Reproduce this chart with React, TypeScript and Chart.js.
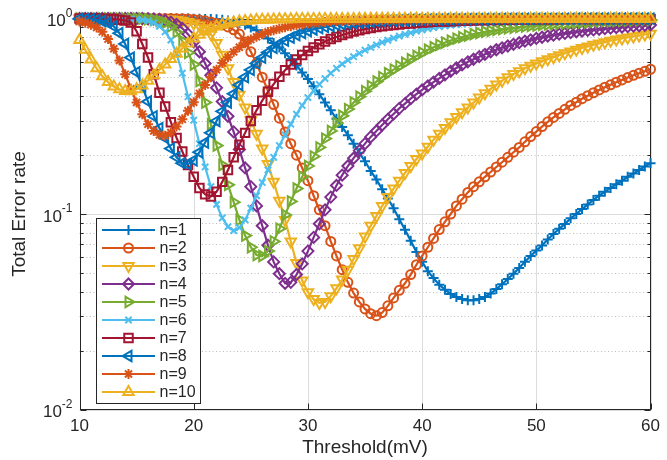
import React, { useEffect, useRef } from "react";
import { Chart, registerables } from "chart.js";
import { drawPoint } from "chart.js/helpers";

Chart.register(...registerables);

const FONT = "'Liberation Sans', Arial, Helvetica, sans-serif";
const TEXT = "#262626";

const thresholds = [
  10, 10.5, 11, 11.5, 12, 12.5, 13, 13.5, 14, 14.5,
  15, 15.5, 16, 16.5, 17, 17.5, 18, 18.5, 19, 19.5,
  20, 20.5, 21, 21.5, 22, 22.5, 23, 23.5, 24, 24.5,
  25, 25.5, 26, 26.5, 27, 27.5, 28, 28.5, 29, 29.5,
  30, 30.5, 31, 31.5, 32, 32.5, 33, 33.5, 34, 34.5,
  35, 35.5, 36, 36.5, 37, 37.5, 38, 38.5, 39, 39.5,
  40, 40.5, 41, 41.5, 42, 42.5, 43, 43.5, 44, 44.5,
  45, 45.5, 46, 46.5, 47, 47.5, 48, 48.5, 49, 49.5,
  50, 50.5, 51, 51.5, 52, 52.5, 53, 53.5, 54, 54.5,
  55, 55.5, 56, 56.5, 57, 57.5, 58, 58.5, 59, 59.5,
  60,
];

const errN1 = [
  1, 1, 1, 1, 1, 1, 1, 1, 1, 1,
  1, 1, 1, 1, 1, 1, 1, 1, 0.999, 0.999,
  0.998, 0.997, 0.995, 0.993, 0.99, 0.985, 0.977, 0.966, 0.95, 0.93,
  0.9, 0.87, 0.83, 0.79, 0.75, 0.71, 0.665, 0.62, 0.575, 0.53,
  0.49, 0.45, 0.41, 0.372, 0.339, 0.307, 0.279, 0.253, 0.229, 0.206,
  0.186, 0.166, 0.15, 0.134, 0.12, 0.107, 0.094, 0.083, 0.073, 0.064,
  0.057, 0.051, 0.047, 0.0435, 0.041, 0.039, 0.0376, 0.0367, 0.0362, 0.0362,
  0.0367, 0.0376, 0.0392, 0.0413, 0.0437, 0.0465, 0.0495, 0.053, 0.057, 0.061,
  0.065, 0.069, 0.074, 0.079, 0.084, 0.089, 0.095, 0.1, 0.106, 0.112,
  0.118, 0.124, 0.13, 0.136, 0.142, 0.148, 0.155, 0.161, 0.168, 0.175,
  0.182,
];

const errN2 = [
  1, 1, 1, 1, 1, 1, 1, 1, 1, 1,
  1, 1, 1, 1, 1, 0.999, 0.999, 0.998, 0.997, 0.995,
  0.989, 0.982, 0.973, 0.96, 0.944, 0.927, 0.906, 0.875, 0.832, 0.759,
  0.676, 0.589, 0.501, 0.427, 0.363, 0.309, 0.263, 0.229, 0.2, 0.172,
  0.148, 0.124, 0.105, 0.0871, 0.0724, 0.061, 0.0519, 0.0447, 0.0394, 0.0355,
  0.0327, 0.0309, 0.0302, 0.0313, 0.0339, 0.0372, 0.0407, 0.0442, 0.049, 0.055,
  0.061, 0.0676, 0.075, 0.0832, 0.0912, 0.1, 0.11, 0.119, 0.129, 0.138,
  0.146, 0.155, 0.164, 0.174, 0.184, 0.195, 0.207, 0.219, 0.234, 0.249,
  0.264, 0.28, 0.296, 0.312, 0.327, 0.343, 0.359, 0.373, 0.389, 0.403,
  0.417, 0.431, 0.445, 0.458, 0.472, 0.485, 0.499, 0.512, 0.525, 0.537,
  0.55,
];

const errN3 = [
  1, 1, 1, 1, 1, 1, 1, 1, 1, 1,
  1, 1, 1, 0.999, 0.997, 0.994, 0.989, 0.982, 0.973, 0.959,
  0.942, 0.92, 0.891, 0.832, 0.75, 0.653, 0.556, 0.473, 0.407, 0.351,
  0.302, 0.257, 0.216, 0.18, 0.146, 0.117, 0.0933, 0.0724, 0.0562, 0.0457,
  0.0398, 0.0367, 0.0351, 0.0355, 0.038, 0.0417, 0.0462, 0.0519, 0.0589, 0.0668,
  0.0767, 0.0871, 0.0977, 0.11, 0.122, 0.135, 0.148, 0.162, 0.176, 0.191,
  0.204, 0.221, 0.24, 0.257, 0.275, 0.295, 0.313, 0.331, 0.351, 0.372,
  0.394, 0.415, 0.437, 0.459, 0.481, 0.501, 0.52, 0.538, 0.556, 0.573,
  0.589, 0.604, 0.619, 0.634, 0.649, 0.664, 0.678, 0.692, 0.706, 0.719,
  0.733, 0.745, 0.757, 0.769, 0.78, 0.791, 0.8, 0.809, 0.818, 0.828,
  0.836,
];

const errN4 = [
  1, 1, 1, 1, 1, 1, 1, 1, 1, 1,
  1, 1, 0.998, 0.995, 0.989, 0.977, 0.959, 0.933, 0.891, 0.832,
  0.759, 0.676, 0.589, 0.513, 0.442, 0.376, 0.316, 0.263, 0.214, 0.172,
  0.138, 0.11, 0.0871, 0.0692, 0.0569, 0.0495, 0.0442, 0.0447, 0.049, 0.0556,
  0.0646, 0.0759, 0.0891, 0.105, 0.122, 0.14, 0.158, 0.176, 0.193, 0.211,
  0.229, 0.248, 0.266, 0.285, 0.305, 0.325, 0.347, 0.367, 0.389, 0.41,
  0.431, 0.452, 0.473, 0.494, 0.515, 0.537, 0.558, 0.579, 0.6, 0.619,
  0.638, 0.656, 0.675, 0.692, 0.708, 0.723, 0.738, 0.752, 0.766, 0.778,
  0.791, 0.802, 0.813, 0.822, 0.832, 0.839, 0.847, 0.855, 0.863, 0.869,
  0.875, 0.881, 0.887, 0.893, 0.899, 0.904, 0.908, 0.914, 0.918, 0.923,
  0.927,
];

const errN5 = [
  1, 1, 1, 1, 1, 1, 1, 1, 1, 1,
  1, 1, 0.993, 0.986, 0.973, 0.951, 0.912, 0.851, 0.767, 0.668,
  0.582, 0.479, 0.372, 0.288, 0.224, 0.178, 0.141, 0.115, 0.0933, 0.0776,
  0.0676, 0.0617, 0.061, 0.0646, 0.0724, 0.0841, 0.0989, 0.116, 0.135, 0.155,
  0.176, 0.197, 0.219, 0.243, 0.266, 0.292, 0.318, 0.344, 0.372, 0.398,
  0.425, 0.451, 0.476, 0.501, 0.525, 0.548, 0.571, 0.594, 0.619, 0.643,
  0.668, 0.692, 0.713, 0.733, 0.753, 0.771, 0.789, 0.803, 0.818, 0.832,
  0.843, 0.855, 0.865, 0.875, 0.883, 0.891, 0.897, 0.904, 0.91, 0.916,
  0.92, 0.927, 0.931, 0.935, 0.94, 0.942, 0.946, 0.951, 0.955, 0.957,
  0.962, 0.964, 0.966, 0.968, 0.971, 0.973, 0.975, 0.977, 0.979, 0.981,
  0.982,
];

const errN6 = [
  1, 1, 1, 1, 1, 1, 1, 1, 0.998, 0.995,
  0.991, 0.984, 0.973, 0.951, 0.912, 0.855, 0.776, 0.661, 0.525, 0.398,
  0.302, 0.229, 0.174, 0.138, 0.112, 0.0955, 0.0861, 0.0822, 0.0851, 0.0933,
  0.107, 0.124, 0.145, 0.168, 0.195, 0.224, 0.254, 0.288, 0.324, 0.359,
  0.394, 0.427, 0.46, 0.493, 0.525, 0.556, 0.585, 0.612, 0.638, 0.664,
  0.689, 0.711, 0.733, 0.755, 0.774, 0.794, 0.813, 0.83, 0.845, 0.861,
  0.875, 0.887, 0.897, 0.908, 0.916, 0.925, 0.931, 0.938, 0.944, 0.951,
  0.955, 0.959, 0.964, 0.966, 0.971, 0.973, 0.975, 0.977, 0.979, 0.982,
  0.984, 0.985, 0.986, 0.988, 0.989, 0.99, 0.991, 0.992, 0.993, 0.993,
  0.993, 0.994, 0.995, 0.995, 0.995, 0.996, 0.996, 0.996, 0.997, 0.997,
  0.997,
];

const errN7 = [
  1, 1, 1, 1, 0.998, 0.995, 0.993, 0.986, 0.977, 0.955,
  0.861, 0.741, 0.631, 0.519, 0.417, 0.355, 0.295, 0.245, 0.209, 0.178,
  0.155, 0.136, 0.126, 0.123, 0.13, 0.146, 0.168, 0.195, 0.226, 0.26,
  0.299, 0.339, 0.38, 0.422, 0.462, 0.504, 0.543, 0.581, 0.617, 0.65,
  0.682, 0.711, 0.738, 0.762, 0.785, 0.805, 0.824, 0.841, 0.857, 0.871,
  0.883, 0.893, 0.904, 0.912, 0.92, 0.927, 0.933, 0.94, 0.944, 0.948,
  0.953, 0.957, 0.962, 0.964, 0.966, 0.968, 0.971, 0.973, 0.975, 0.977,
  0.979, 0.98, 0.982, 0.983, 0.984, 0.985, 0.986, 0.988, 0.989, 0.989,
  0.99, 0.991, 0.991, 0.992, 0.992, 0.993, 0.993, 0.993, 0.993, 0.994,
  0.994, 0.994, 0.994, 0.995, 0.995, 0.995, 0.995, 0.995, 0.995, 0.995,
  0.995,
];

const errN8 = [
  0.995, 0.993, 0.989, 0.982, 0.971, 0.951, 0.912, 0.841, 0.741, 0.631,
  0.531, 0.447, 0.376, 0.316, 0.275, 0.245, 0.216, 0.195, 0.182, 0.18,
  0.188, 0.207, 0.232, 0.26, 0.299, 0.335, 0.372, 0.412, 0.457, 0.501,
  0.546, 0.589, 0.631, 0.671, 0.708, 0.741, 0.771, 0.798, 0.822, 0.843,
  0.863, 0.879, 0.893, 0.906, 0.916, 0.927, 0.935, 0.942, 0.948, 0.955,
  0.959, 0.964, 0.968, 0.971, 0.973, 0.975, 0.977, 0.979, 0.982, 0.983,
  0.984, 0.985, 0.986, 0.987, 0.989, 0.989, 0.99, 0.99, 0.991, 0.992,
  0.992, 0.993, 0.993, 0.993, 0.994, 0.994, 0.994, 0.995, 0.995, 0.995,
  0.995, 0.996, 0.996, 0.996, 0.996, 0.996, 0.996, 0.997, 0.997, 0.997,
  0.997, 0.997, 0.997, 0.997, 0.997, 0.998, 0.998, 0.998, 0.998, 0.998,
  0.998,
];

const errN9 = [
  0.966, 0.951, 0.929, 0.9, 0.855, 0.785, 0.7, 0.61, 0.519, 0.437,
  0.372, 0.324, 0.288, 0.266, 0.254, 0.251, 0.261, 0.28, 0.305, 0.337,
  0.373, 0.414, 0.457, 0.501, 0.547, 0.592, 0.634, 0.675, 0.713, 0.748,
  0.78, 0.807, 0.832, 0.853, 0.871, 0.887, 0.902, 0.914, 0.925, 0.933,
  0.942, 0.948, 0.955, 0.959, 0.964, 0.968, 0.971, 0.973, 0.975, 0.977,
  0.979, 0.98, 0.982, 0.983, 0.984, 0.985, 0.986, 0.987, 0.988, 0.988,
  0.989, 0.989, 0.99, 0.99, 0.991, 0.991, 0.992, 0.992, 0.993, 0.993,
  0.993, 0.993, 0.994, 0.994, 0.994, 0.994, 0.995, 0.995, 0.995, 0.995,
  0.995, 0.995, 0.996, 0.996, 0.996, 0.996, 0.996, 0.996, 0.996, 0.996,
  0.997, 0.997, 0.997, 0.997, 0.997, 0.997, 0.997, 0.997, 0.997, 0.997,
  0.997,
];

const errN10 = [
  0.776, 0.692, 0.617, 0.556, 0.507, 0.473, 0.449, 0.434, 0.426, 0.425,
  0.435, 0.454, 0.481, 0.513, 0.547, 0.582, 0.621, 0.661, 0.703, 0.746,
  0.789, 0.826, 0.859, 0.887, 0.91, 0.929, 0.944, 0.955, 0.964, 0.971,
  0.977, 0.982, 0.984, 0.986, 0.989, 0.99, 0.991, 0.992, 0.993, 0.993,
  0.994, 0.994, 0.994, 0.995, 0.995, 0.995, 0.995, 0.995, 0.995, 0.996,
  0.996, 0.996, 0.996, 0.996, 0.996, 0.996, 0.996, 0.996, 0.996, 0.996,
  0.997, 0.997, 0.997, 0.997, 0.997, 0.997, 0.997, 0.997, 0.997, 0.997,
  0.997, 0.997, 0.997, 0.997, 0.997, 0.997, 0.997, 0.997, 0.997, 0.997,
  0.998, 0.998, 0.998, 0.998, 0.998, 0.998, 0.998, 0.998, 0.998, 0.998,
  0.998, 0.998, 0.998, 0.998, 0.998, 0.998, 0.998, 0.998, 0.998, 0.998,
  0.998,
];

const seriesLabels = ["n=1", "n=2", "n=3", "n=4", "n=5", "n=6", "n=7", "n=8", "n=9", "n=10"];
const seriesValues = [errN1, errN2, errN3, errN4, errN5, errN6, errN7, errN8, errN9, errN10];
const seriesColors = [
  "#0072BD", "#D95319", "#EDB120", "#7E2F8E", "#77AC30",
  "#4DBEEE", "#A2142F", "#0072BD", "#D95319", "#EDB120",
];
const seriesMarkers = [
  { style: "cross", rotation: 0, radius: 5 },
  { style: "circle", rotation: 0, radius: 4.5 },
  { style: "triangle", rotation: 180, radius: 6 },
  { style: "rectRot", rotation: 0, radius: 5.5 },
  { style: "triangle", rotation: 90, radius: 6 },
  { style: "crossRot", rotation: 0, radius: 4.5 },
  { style: "rect", rotation: 0, radius: 6 },
  { style: "triangle", rotation: 270, radius: 6 },
  { style: "star", rotation: 0, radius: 5 },
  { style: "triangle", rotation: 0, radius: 6 },
];

const xTickValues = [10, 20, 30, 40, 50, 60];
const yDecades = [0.01, 0.1, 1];
const yDecadeExponents = ["-2", "-1", "0"];
const yMinorTicks = [0.02, 0.03, 0.04, 0.05, 0.06, 0.07, 0.08, 0.09, 0.2, 0.3, 0.4, 0.5, 0.6, 0.7, 0.8, 0.9];

const axesPlugin = {
  id: "matlabAxes",
  beforeDatasetsDraw(chart: any) {
    const { ctx, chartArea: a } = chart;
    const xs = chart.scales.x;
    const ys = chart.scales.y;
    ctx.save();
    ctx.lineWidth = 1;
    ctx.strokeStyle = "rgba(38,38,38,0.3)";
    ctx.setLineDash([1, 2.5]);
    for (const v of yMinorTicks) {
      const py = Math.round(ys.getPixelForValue(v)) + 0.5;
      ctx.beginPath();
      ctx.moveTo(a.left, py);
      ctx.lineTo(a.right, py);
      ctx.stroke();
    }
    ctx.setLineDash([]);
    ctx.strokeStyle = "#dcdcdc";
    for (const v of xTickValues) {
      const px = Math.round(xs.getPixelForValue(v)) + 0.5;
      ctx.beginPath();
      ctx.moveTo(px, a.top);
      ctx.lineTo(px, a.bottom);
      ctx.stroke();
    }
    for (const v of yDecades) {
      const py = Math.round(ys.getPixelForValue(v)) + 0.5;
      ctx.beginPath();
      ctx.moveTo(a.left, py);
      ctx.lineTo(a.right, py);
      ctx.stroke();
    }
    ctx.strokeStyle = TEXT;
    ctx.lineWidth = 1;
    const L = Math.round(a.left) + 0.5;
    const R = Math.round(a.right) - 0.5;
    const T = Math.round(a.top) + 0.5;
    const B = Math.round(a.bottom) - 0.5;
    ctx.strokeRect(L, T, R - L, B - T);
    ctx.beginPath();
    for (const v of xTickValues) {
      const px = Math.round(xs.getPixelForValue(v)) + 0.5;
      ctx.moveTo(px, B);
      ctx.lineTo(px, B - 6);
      ctx.moveTo(px, T);
      ctx.lineTo(px, T + 6);
    }
    for (const v of yDecades) {
      const py = Math.round(ys.getPixelForValue(v)) + 0.5;
      ctx.moveTo(L, py);
      ctx.lineTo(L + 6, py);
      ctx.moveTo(R, py);
      ctx.lineTo(R - 6, py);
    }
    for (const v of yMinorTicks) {
      const py = Math.round(ys.getPixelForValue(v)) + 0.5;
      ctx.moveTo(L, py);
      ctx.lineTo(L + 3, py);
      ctx.moveTo(R, py);
      ctx.lineTo(R - 3, py);
    }
    ctx.stroke();
    ctx.fillStyle = TEXT;
    yDecades.forEach((v, i) => {
      const py = ys.getPixelForValue(v);
      const sup = yDecadeExponents[i];
      ctx.font = `12px ${FONT}`;
      const supW = ctx.measureText(sup).width;
      ctx.font = `17px ${FONT}`;
      const baseW = ctx.measureText("10").width;
      const right = a.left - 7;
      ctx.textBaseline = "middle";
      ctx.textAlign = "left";
      ctx.fillText("10", right - supW - baseW, py + 3);
      ctx.font = `12px ${FONT}`;
      ctx.fillText(sup, right - supW, py - 5);
    });
    ctx.restore();
  },
  afterDatasetsDraw(chart: any) {
    const { ctx } = chart;
    ctx.save();
    const bx = 96.5, by = 218.5, bw = 104, bh = 185;
    ctx.fillStyle = "#ffffff";
    ctx.fillRect(bx, by, bw, bh);
    ctx.strokeStyle = TEXT;
    ctx.lineWidth = 1;
    ctx.strokeRect(bx, by, bw, bh);
    seriesLabels.forEach((label, i) => {
      const y = 230 + 18 * i;
      const color = seriesColors[i];
      ctx.strokeStyle = color;
      ctx.lineWidth = 2;
      ctx.beginPath();
      ctx.moveTo(102, y);
      ctx.lineTo(155, y);
      ctx.stroke();
      const m = seriesMarkers[i];
      ctx.lineWidth = 2;
      ctx.fillStyle = "rgba(0,0,0,0)";
      drawPoint(ctx, { pointStyle: m.style, rotation: m.rotation, radius: m.radius, borderWidth: 2 } as any, 128.5, y);
      ctx.fillStyle = TEXT;
      ctx.font = `16px ${FONT}`;
      ctx.textBaseline = "middle";
      ctx.textAlign = "left";
      ctx.fillText(label, 159.5, y + 0.5);
    });
    ctx.restore();
  },
};

export default function App() {
  const canvasRef = useRef<HTMLCanvasElement | null>(null);
  useEffect(() => {
    const canvas = canvasRef.current;
    if (!canvas) return;
    const datasets = seriesValues.map((vals, i) => ({
      label: seriesLabels[i],
      data: thresholds.map((x, j) => ({ x, y: vals[j] })),
      borderColor: seriesColors[i],
      backgroundColor: "rgba(0,0,0,0)",
      borderWidth: 2.2,
      pointStyle: seriesMarkers[i].style,
      pointRotation: seriesMarkers[i].rotation,
      pointRadius: seriesMarkers[i].radius,
      pointBorderWidth: 2,
      pointBorderColor: seriesColors[i],
      pointBackgroundColor: "rgba(0,0,0,0)",
      tension: 0,
      clip: false,
      order: 10 - i,
    }));
    const chart = new Chart(canvas, {
      type: "line",
      data: { datasets } as any,
      options: {
        animation: false,
        responsive: false,
        devicePixelRatio: 1,
        events: [],
        layout: { padding: { left: 0, right: 3.5, top: 18.5, bottom: 0 } },
        plugins: { legend: { display: false }, tooltip: { enabled: false } },
        scales: {
          x: {
            type: "linear",
            min: 10,
            max: 60,
            grid: { display: false, drawTicks: false },
            border: { display: false },
            ticks: {
              stepSize: 10,
              color: TEXT,
              font: { family: FONT, size: 17 },
              padding: 7,
              maxRotation: 0,
            },
            title: {
              display: true,
              text: "Threshold(mV)",
              color: TEXT,
              font: { family: FONT, size: 19 },
              padding: { top: 0, bottom: 0.5 },
            },
            afterFit: (s: any) => {
              s.height = 50.5;
            },
          },
          y: {
            type: "logarithmic",
            min: 0.01,
            max: 1,
            grid: { display: false, drawTicks: false },
            border: { display: false },
            ticks: { display: false },
            title: {
              display: true,
              text: "Total Error rate",
              color: TEXT,
              font: { family: FONT, size: 19 },
              padding: { top: 8.5, bottom: 0 },
            },
            afterFit: (s: any) => {
              s.width = 79.5;
            },
          },
        },
      } as any,
      plugins: [axesPlugin],
    });
    return () => chart.destroy();
  }, []);
  return (
    <div style={{ position: "absolute", left: 0, top: 0, width: 667, height: 460, background: "#fff" }}>
      <canvas ref={canvasRef} width={667} height={460} style={{ display: "block" }} />
    </div>
  );
}
